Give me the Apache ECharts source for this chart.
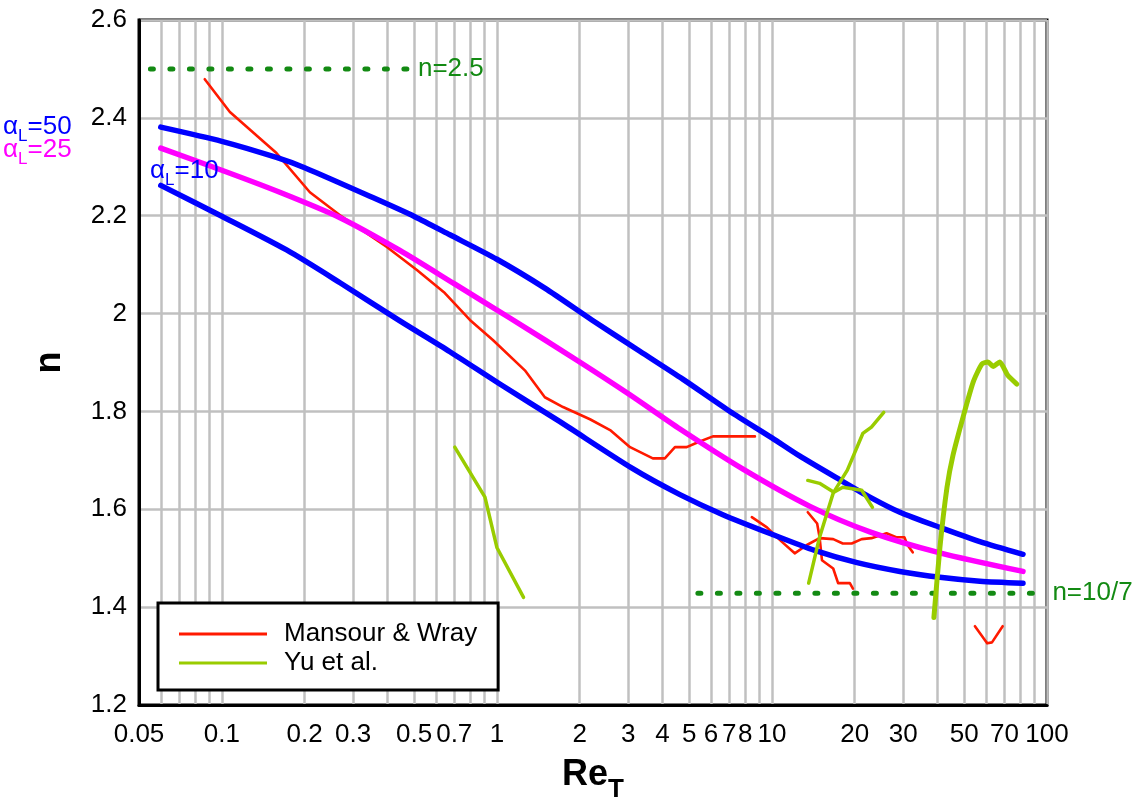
<!DOCTYPE html>
<html><head><meta charset="utf-8">
<script src="https://cdn.jsdelivr.net/npm/echarts@6/dist/echarts.min.js"></script>
<style>html,body{margin:0;padding:0;background:#fff}#c{width:1148px;height:797px}</style>
</head><body><div id="c"></div>
<script>
// tick labels / grid positions
const xLabelValues = [0.05,0.1,0.2,0.3,0.5,0.7,1,2,3,4,5,6,7,8,10,20,30,50,70,100];
const xGridValues = [0.05,0.06,0.07,0.08,0.09,0.1,0.2,0.3,0.4,0.5,0.6,0.7,0.8,0.9,1,2,3,4,5,6,7,8,9,10,20,30,40,50,60,70,80,90,100];

// alpha_L = 50 (blue, upper)
const a50Re = [0.06,0.1,0.158,0.2,0.354,0.503,0.675,1,1.494,2.215,3.31,4.74,7.04,10,12.6,17.7,22.7,29.2,40.8,57,81.8];
const a50N  = [2.381,2.352,2.319,2.298,2.237,2.198,2.161,2.111,2.052,1.987,1.923,1.866,1.800,1.746,1.709,1.660,1.625,1.594,1.563,1.534,1.508];
// alpha_L = 25 (magenta)
const a25Re = [0.06,0.1,0.1625,0.269,0.444,0.704,1.115,2.0,3.045,4.63,7.85,13.75,22.7,40.8,81.8];
const a25N  = [2.338,2.293,2.248,2.196,2.129,2.060,1.991,1.901,1.834,1.764,1.682,1.606,1.554,1.511,1.473];
// alpha_L = 10 (blue, lower)
const a10Re = [0.06,0.1,0.172,0.269,0.444,0.675,1.025,1.695,3.12,4.63,6.63,10.1,14.3,20.4,29.2,40.8,57,81.8];
const a10N  = [2.262,2.199,2.130,2.063,1.985,1.922,1.856,1.779,1.683,1.630,1.589,1.548,1.516,1.491,1.473,1.461,1.453,1.449];

// Mansour & Wray
const mw1Re = [0.0867,0.107,0.158,0.209,0.269,0.398,0.512,0.647,0.798,0.967,1.264,1.494,1.74,2.18,2.58,3.05,3.69,4.08,4.44,4.9,5.38,6.1,8.67];
const mw1N  = [2.479,2.412,2.328,2.248,2.201,2.136,2.089,2.042,1.987,1.946,1.884,1.829,1.809,1.784,1.762,1.727,1.704,1.704,1.727,1.727,1.737,1.749,1.749];
const mw2Re = [8.45,9.59,10.7,12.1,13.4,14.9,16.7,18.1,19.5,21.2,23,26.1,28.3,30.3,31.1,32.5];
const mw2N  = [1.584,1.563,1.537,1.510,1.527,1.541,1.539,1.530,1.530,1.539,1.541,1.551,1.543,1.543,1.527,1.512];
const mw3Re = [13.5,14.6,14.9,15.2,16.7,17.4,19.2,19.7];
const mw3N  = [1.594,1.571,1.543,1.496,1.479,1.449,1.449,1.438];
const mw4Re = [54.7,60.6,63.1,69];
const mw4N  = [1.361,1.326,1.328,1.361];

// Yu et al.
const yu1Re = [0.703,0.905,1.0,1.25];
const yu1N  = [1.727,1.625,1.522,1.420];
const yu2Re = [13.6,14.9,16.7,18.8,21.4,23,25.5];
const yu2N  = [1.449,1.543,1.633,1.680,1.755,1.768,1.798];
const yu3Re = [13.5,14.9,16.8,18.1,21.2,23.2];
const yu3N  = [1.659,1.653,1.635,1.645,1.639,1.604];
const yu4Re = [38.8,40.8,43.3,45.5,49.5,53.9,58,61,63.7,67.3,72,77.7];
const yu4N  = [1.379,1.522,1.645,1.71,1.788,1.860,1.897,1.901,1.892,1.901,1.874,1.856];

// reference levels
const ref25Re = [0.055,0.475];
const ref25N  = [2.5,2.5];
const ref107Re = [5.38,90];
const ref107N  = [10/7,10/7];

const zip = (a,b) => a.map((v,i)=>[v,b[i]]);
const FONT = 'Liberation Sans, Arial, Helvetica, sans-serif';
const RED = '#ff1a00', GREEN = '#99cc00', BLUE = '#0000ff', MAG = '#ff00ff', DG = '#138a13';

function line(name, re, n, color, width, z, extra) {
  return Object.assign({
    name, type:'line', data: zip(re,n), showSymbol:false, symbol:'none',
    lineStyle:{color, width, cap:'round', join:'round'}, itemStyle:{color},
    z, animation:false, silent:true
  }, extra||{});
}
function alphaLabel(txt, color, left, top) {
  return {type:'text', left, top, z:100, style:{text:'{a|α}{s|L}{a|=' + txt + '}', fill:color,
    rich:{a:{fontSize:26, fill:color, fontFamily:FONT, verticalAlign:'bottom', lineHeight:28},
          s:{fontSize:17, fill:color, fontFamily:FONT, verticalAlign:'bottom', lineHeight:20, padding:[0,0,-5,0]}}}};
}

const chart = echarts.init(document.getElementById('c'), null, {renderer:'canvas'});
chart.setOption({
  backgroundColor:'#fff',
  animation:false,
  textStyle:{fontFamily:FONT},
  grid:{left:139, right:101, top:20, bottom:92, outerBoundsMode:'none', containLabel:false,
        show:true, borderColor:'#000', borderWidth:3, backgroundColor:'transparent'},
  xAxis:{
    type:'log', logBase:10, min:0.05, max:100,
    axisLine:{show:true, lineStyle:{color:'#000', width:3}},
    axisTick:{show:false, customValues:xGridValues},
    splitLine:{show:true, lineStyle:{color:'#c0c0c0', width:2.5}},
    minorSplitLine:{show:false},
    axisLabel:{customValues:xLabelValues, fontSize:26, color:'#000', margin:17, fontFamily:FONT,
      formatter:v=>String(+(+v).toPrecision(6))},
    name:'{r|Re}{s|T}', nameLocation:'middle', nameGap:48,
    nameTextStyle:{rich:{
      r:{fontSize:36, fontWeight:'bold', color:'#000', fontFamily:FONT, verticalAlign:'bottom', lineHeight:40},
      s:{fontSize:26, fontWeight:'bold', color:'#000', fontFamily:FONT, verticalAlign:'bottom', lineHeight:30, padding:[0,0,-10,0]}
    }}
  },
  yAxis:{
    type:'value', min:1.2, max:2.6, interval:0.2,
    axisLine:{show:true, lineStyle:{color:'#000', width:3}},
    axisTick:{show:false},
    splitLine:{show:true, lineStyle:{color:'#c0c0c0', width:2.5}},
    axisLabel:{fontSize:26, color:'#000', margin:12, fontFamily:FONT},
    name:'n', nameLocation:'middle', nameGap:71, nameRotate:90,
    nameTextStyle:{fontSize:36, fontWeight:'bold', color:'#000', fontFamily:FONT}
  },
  legend:{
    data:['Mansour & Wray','Yu et al.'],
    orient:'vertical', left:158, top:603,
    icon:'rect',
    backgroundColor:'#fff', borderColor:'#000', borderWidth:3, borderRadius:0,
    padding:[18,21,14,21], itemGap:3, itemWidth:88, itemHeight:3,
    textStyle:{fontSize:26, color:'#000', fontFamily:FONT, padding:[0,0,0,12], lineHeight:26}
  },
  graphic:[
    alphaLabel('50', BLUE, 3, 114),
    alphaLabel('25', MAG, 3, 137),
    alphaLabel('10', BLUE, 150, 158)
  ],
  series:[
    line('Mansour & Wray', mw1Re, mw1N, RED, 2.6, 3),
    line('Mansour & Wray', mw2Re, mw2N, RED, 2.6, 3),
    line('Mansour & Wray', mw3Re, mw3N, RED, 2.6, 3),
    line('Mansour & Wray', mw4Re, mw4N, RED, 2.6, 3),
    line('aL50', a50Re, a50N, BLUE, 5.5, 4, {smooth:0.25}),
    line('aL25', a25Re, a25N, MAG, 5.5, 4, {smooth:0.25}),
    line('aL10', a10Re, a10N, BLUE, 5.5, 4, {smooth:0.25}),
    line('Yu et al.', yu1Re, yu1N, GREEN, 3.5, 5),
    line('Yu et al.', yu2Re, yu2N, GREEN, 3.5, 5),
    line('Yu et al.', yu3Re, yu3N, GREEN, 3.5, 5),
    line('Yu et al.', yu4Re, yu4N, GREEN, 5, 5, {smooth:0.2}),
    line('ref25', ref25Re, ref25N, DG, 5, 2, {
      lineStyle:{color:DG, width:5, type:[3,16.5], cap:'round'},
      endLabel:{show:true, formatter:'n=2.5', color:DG, fontSize:26, fontFamily:FONT, distance:10}}),
    line('ref107', ref107Re, ref107N, DG, 5, 2, {
      lineStyle:{color:DG, width:5, type:[3,16.5], cap:'round'},
      endLabel:{show:true, formatter:'n=10/7', color:DG, fontSize:26, fontFamily:FONT, distance:18}})
  ]
});
</script></body></html>
